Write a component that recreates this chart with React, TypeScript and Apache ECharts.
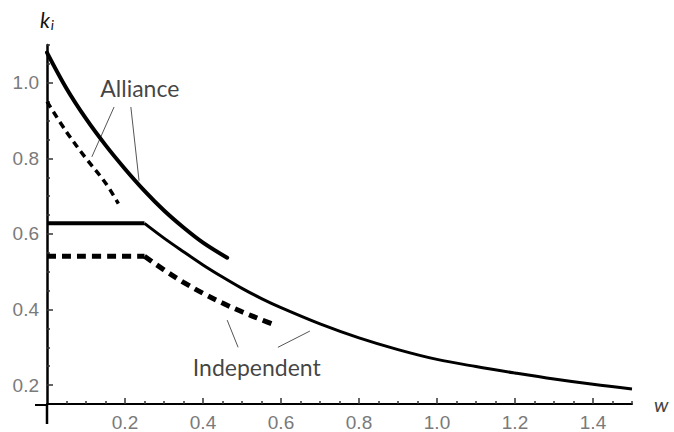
import React, { useEffect, useRef } from "react";
import * as echarts from "echarts";

// ---- data ----
const allianceSolidX = [0, 0.05, 0.1, 0.15, 0.2, 0.25, 0.3, 0.35, 0.4, 0.462];
const allianceSolidY = [1.08, 0.985, 0.905, 0.835, 0.772, 0.714, 0.662, 0.617, 0.577, 0.537];

const allianceDashedX = [0, 0.05, 0.1, 0.15, 0.183];
const allianceDashedY = [0.95, 0.87, 0.8, 0.735, 0.68];

const indepFlatX = [0, 0.25];
const indepFlatY = [0.628, 0.628];
const indepSolidX = [0.25, 0.3, 0.35, 0.4, 0.45, 0.5, 0.55, 0.6, 0.7, 0.8, 0.9, 1.0, 1.1, 1.2, 1.3, 1.4, 1.5];
const indepSolidY = [0.628, 0.589, 0.553, 0.518, 0.486, 0.456, 0.429, 0.405, 0.362, 0.325, 0.294, 0.268, 0.249, 0.232, 0.216, 0.202, 0.19];

const indepDashedFlatX = [0, 0.25];
const indepDashedFlatY = [0.541, 0.541];
const indepDashedX = [0.25, 0.3, 0.35, 0.4, 0.45, 0.5, 0.55, 0.585];
const indepDashedY = [0.541, 0.505, 0.472, 0.443, 0.417, 0.394, 0.373, 0.359];

const allianceLeader1 = [[0.172, 0.936], [0.115, 0.804]];
const allianceLeader2 = [[0.215, 0.936], [0.236, 0.741]];
const indepLeader1 = [[0.462, 0.372], [0.49, 0.3]];
const indepLeader2 = [[0.674, 0.343], [0.592, 0.3]];

const allianceLabelPos = [0.238, 0.987];
const indepLabelPos = [0.538, 0.248];

const xMajorTicks = [0.2, 0.4, 0.6, 0.8, 1.0, 1.2, 1.4];
const xMinorTicks = [0.05, 0.1, 0.15, 0.25, 0.3, 0.35, 0.45, 0.5, 0.55, 0.65, 0.7, 0.75, 0.85, 0.9, 0.95, 1.05, 1.1, 1.15, 1.25, 1.3, 1.35, 1.45, 1.5];
const yMajorTicks = [0.2, 0.4, 0.6, 0.8, 1.0];
const yMinorTicks = [0.25, 0.3, 0.35, 0.45, 0.5, 0.55, 0.65, 0.7, 0.75, 0.85, 0.9, 0.95, 1.05, 1.1];

const X_MIN = 0, X_MAX = 1.5, Y_MIN = 0.15, Y_MAX = 1.1;

const zip = (xs: number[], ys: number[]) => xs.map((x, i) => [x, ys[i]]);

export default function App() {
  const ref = useRef<HTMLDivElement>(null);
  useEffect(() => {
    if (!ref.current) return;
    const chart = echarts.init(ref.current, null, { renderer: "svg" });
    const H = 432;
    const grid = { left: 47, right: 42, top: 45, bottom: 27 };
    const axisY = H - grid.bottom;
    const tickLabel = { fontSize: 19, color: "#7a7a7a", fontFamily: "Liberation Sans" };
    const leader = (d: number[][]) => ({
      type: "line", data: d, symbol: "none", silent: true,
      lineStyle: { color: "#555", width: 1 }, z: 1,
    });
    const textMark = (pos: number[], txt: string) => ({
      type: "scatter", data: [pos], symbolSize: 0, silent: true,
      label: {
        show: true, position: "inside", formatter: txt,
        fontSize: 23, fontFamily: "Lato", color: "#111",
      },
    });
    const curve = (d: number[][], style: any) => ({
      type: "line", data: d, symbol: "none", smooth: 0.35,
      lineStyle: { color: "#000", ...style }, z: 3,
    });
    chart.setOption({
      animation: false,
      backgroundColor: "#fff",
      grid: { ...grid, containLabel: false },
      xAxis: [
        {
          type: "value", min: X_MIN, max: X_MAX,
          axisLine: { show: true, onZero: false, lineStyle: { color: "#000", width: 2 } },
          axisTick: { show: true, inside: true, length: 6, customValues: xMajorTicks, lineStyle: { color: "#333", width: 1.5 } },
          axisLabel: { show: true, customValues: xMajorTicks, margin: 9, formatter: (v: number) => v.toFixed(1), ...tickLabel },
          splitLine: { show: false },
          name: "w", nameLocation: "end", nameGap: 22,
          nameTextStyle: { fontSize: 20, fontStyle: "italic", color: "#444", fontFamily: "Lato", align: "left", verticalAlign: "middle" },
        },
        {
          type: "value", min: X_MIN, max: X_MAX, position: "bottom",
          axisLine: { show: false, onZero: false },
          axisTick: { show: true, inside: true, length: 3, customValues: xMinorTicks, lineStyle: { color: "#333", width: 1.5 } },
          axisLabel: { show: false },
          splitLine: { show: false },
        },
      ],
      yAxis: [
        {
          type: "value", min: Y_MIN, max: Y_MAX,
          axisLine: { show: true, onZero: false, lineStyle: { color: "#000", width: 2.5 } },
          axisTick: { show: true, inside: true, length: 6, customValues: yMajorTicks, lineStyle: { color: "#333", width: 1.5 } },
          axisLabel: { show: true, customValues: yMajorTicks, margin: 8, formatter: (v: number) => v.toFixed(1), ...tickLabel },
          splitLine: { show: false },
          name: "{k|k}{i|i}", nameLocation: "end", nameGap: 14,
          nameTextStyle: {
            align: "center",
            rich: {
              k: { fontSize: 21, fontStyle: "italic", fontFamily: "Lato", color: "#111" },
              i: { fontSize: 14, fontStyle: "italic", fontFamily: "Lato", color: "#111", padding: [10, 0, 0, 1] },
            },
          },
        },
        {
          type: "value", min: Y_MIN, max: Y_MAX, position: "left",
          axisLine: { show: false, onZero: false },
          axisTick: { show: true, inside: true, length: 3, customValues: yMinorTicks, lineStyle: { color: "#333", width: 1.5 } },
          axisLabel: { show: false },
          splitLine: { show: false },
        },
      ],
      graphic: [
        { type: "line", shape: { x1: 35, y1: axisY, x2: grid.left, y2: axisY }, style: { stroke: "#000", lineWidth: 2 } },
        { type: "line", shape: { x1: grid.left, y1: axisY, x2: grid.left, y2: 424 }, style: { stroke: "#000", lineWidth: 2.5 } },
      ],
      series: [
        curve(zip(allianceSolidX, allianceSolidY), { width: 4, cap: "round" }),
        curve(zip(allianceDashedX, allianceDashedY), { width: 3.5, type: [7, 5], cap: "butt" }),
        curve(zip(indepFlatX, indepFlatY), { width: 4 }),
        curve(zip(indepSolidX, indepSolidY), { width: 3 }),
        curve(zip(indepDashedFlatX, indepDashedFlatY), { width: 5, type: [9, 6], cap: "butt" }),
        curve(zip(indepDashedX, indepDashedY), { width: 5, type: [9, 6], cap: "butt" }),
        leader(allianceLeader1),
        leader(allianceLeader2),
        leader(indepLeader1),
        leader(indepLeader2),
        textMark(allianceLabelPos, "Alliance"),
        textMark(indepLabelPos, "Independent"),
      ],
    });
    return () => chart.dispose();
  }, []);
  return (
    <div
      ref={ref}
      style={{ position: "fixed", left: 0, top: 0, width: 674, height: 432, background: "#fff" }}
    />
  );
}
